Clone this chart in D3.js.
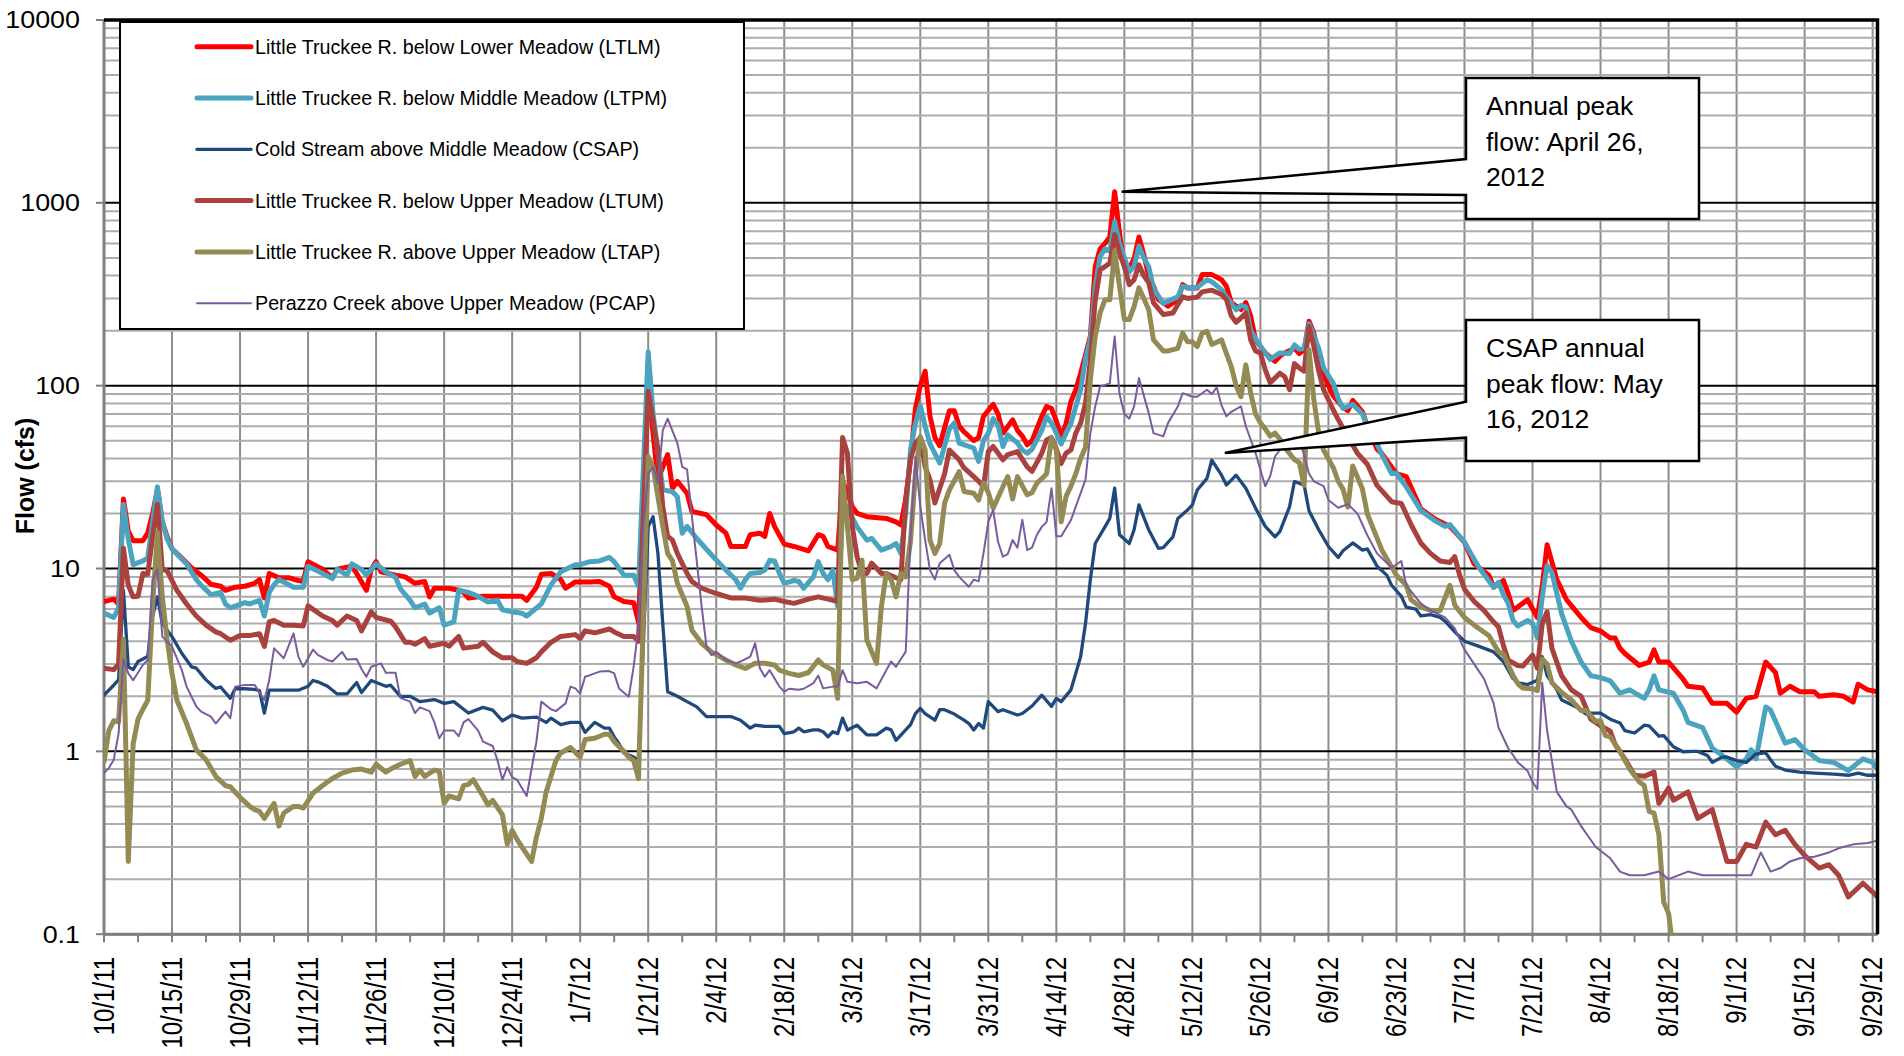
<!DOCTYPE html>
<html>
<head>
<meta charset="utf-8">
<script src="https://cdn.jsdelivr.net/npm/d3@7"></script>
<style>
  html, body { margin: 0; padding: 0; background: #fff; }
  svg { display: block; }
  text { font-family: Arial, "Liberation Sans", sans-serif; fill: #000; }
</style>
</head>
<body>
<svg id="chart" width="1904" height="1056"></svg>
<script>
// Water year 2012 daily flow, Little Truckee River meadows (cfs).
// Each series: [days since 10/1/11, flow in cfs]
const waterYearStart = "10/1/11";
const waterYearEnd = "9/30/12";

const dateTickLabels = ["10/1/11", "10/15/11", "10/29/11", "11/12/11", "11/26/11", "12/10/11", "12/24/11",
  "1/7/12", "1/21/12", "2/4/12", "2/18/12", "3/3/12", "3/17/12", "3/31/12", "4/14/12", "4/28/12",
  "5/12/12", "5/26/12", "6/9/12", "6/23/12", "7/7/12", "7/21/12", "8/4/12", "8/18/12", "9/1/12",
  "9/15/12", "9/29/12"];

const flowTicks = [0.1, 1, 10, 100, 1000, 10000];

const seriesNames = [
  "Little Truckee R. below Lower Meadow (LTLM)",
  "Little Truckee R. below Middle Meadow (LTPM)",
  "Cold Stream above Middle Meadow (CSAP)",
  "Little Truckee R. below Upper Meadow (LTUM)",
  "Little Truckee R. above Upper Meadow (LTAP)",
  "Perazzo Creek above Upper Meadow (PCAP)"
];

const ltlm = [[0,6.6],[2,6.8],[3,6.4],[4,24],[5,16],[6,14.2],[8,14.2],[9,15.6],[10,20],[11,27],[12,18],[13,14.9],[14,12.8],[16,11.4],[18,10.1],[20,9.2],[22,8.2],[24,8.0],[25,7.6],[27,7.9],[29,8.0],[31,8.3],[32,8.7],[33,6.9],[34,9.4],[36,8.9],[38,8.9],[40,8.6],[41,8.5],[42,10.9],[45,9.9],[47,8.9],[48,9.9],[51,10.3],[52,9.4],[54,7.6],[55,9.9],[56,10.9],[57,9.6],[60,9.2],[62,9.0],[64,8.3],[66,8.5],[67,7.0],[68,7.8],[71,7.8],[73,7.6],[74,7.4],[75,6.9],[78,7.05],[84,7.05],[86,7.05],[87,6.7],[89,7.9],[90,9.3],[92,9.4],[94,8.7],[95,7.8],[97,8.45],[100,8.45],[102,8.5],[104,8.0],[105,7.0],[107,6.6],[109,6.5],[110,5.1],[112,105],[113,55],[114,30.5],[116,42],[117,27.5],[118,30],[120,25.8],[121,20.5],[124,19.7],[126,17.3],[128,15.6],[129,13.2],[132,13.2],[133,15.3],[135,15.6],[136,15],[137,20],[138,17],[140,13.6],[142,13.2],[145,12.5],[147,15.3],[148,15],[149,13.2],[151,12.6],[152,30],[153,26],[154,21.8],[155,20],[157,19.2],[161,18.8],[163,18],[164,17.3],[165,24],[166,40],[167,75],[168,100],[169,120],[170,68],[171,52],[172,47],[173,59],[174,73],[175,73],[176,60],[177,56],[179,50],[180,52],[181,68],[183,79],[184,70],[185,55],[187,65],[188,57],[189,53],[190,47.5],[191,50],[193,68],[194,77],[195,75],[196,64],[197,53],[198,62],[199,82],[200,95],[201,117],[203,186],[204,448],[205,560],[206,600],[207,650],[208,1150],[209,680],[210,450],[211,437],[212,495],[213,650],[214,520],[215,400],[216,350],[217,296],[219,272],[221,296],[222,357],[223,342],[225,342],[226,405],[228,405],[230,380],[231,350],[232,285],[234,261],[235,285],[236,240],[237,178],[239,151],[241,136],[242,145],[243,151],[245,160],[246,150],[247,157],[248,225],[249,193],[251,115],[252,100],[253,88],[255,76],[256,73],[257,83],[259,72],[260,60],[262,45],[263,42.5],[266,33],[268,31.8],[271,21.2],[274,18.6],[277,17],[280,13.9],[282,10.6],[285,9.2],[286,7.9],[288,8.6],[289,7.3],[290,5.9],[293,6.75],[295,5.4],[296,8],[297,13.5],[299,8.7],[301,6.75],[304,5.4],[306,4.75],[308,4.55],[310,4.17],[311,4.17],[312,3.66],[313,3.43],[316,2.95],[318,3.08],[319,3.59],[320,3.08],[322,3.08],[325,2.48],[326,2.27],[329,2.22],[331,1.83],[334,1.83],[336,1.64],[338,1.95],[340,2.0],[342,3.08],[344,2.7],[345,2.08],[347,2.27],[349,2.12],[352,2.12],[353,2.0],[356,2.04],[358,2.0],[360,1.86],[361,2.33],[363,2.17],[365,2.12]];

const ltpm = [[0,5.7],[2,5.4],[3,6.1],[4,22.4],[5,14.5],[6,10.5],[8,11],[9,11.5],[10,18],[11,28],[12,18],[13,14.5],[14,12.8],[17,10.6],[19,8.7],[20,8.1],[22,7.2],[24,7.4],[25,6.4],[26,6.1],[29,6.5],[30,6.4],[32,6.7],[33,5.5],[34,7.4],[35,8.15],[36,8.7],[39,7.9],[41,7.9],[42,10.3],[45,9.4],[47,8.8],[48,9.9],[50,9.2],[51,10.6],[53,9.9],[54,9.2],[56,10.6],[58,9.6],[60,8.95],[61,7.75],[63,6.7],[64,6.1],[66,6.4],[67,5.7],[69,6.1],[70,4.9],[72,5.1],[73,7.6],[75,7.4],[77,7.05],[79,6.55],[81,6.7],[82,5.95],[84,5.8],[86,5.7],[87,5.5],[90,6.4],[92,8.15],[94,9.6],[97,10.5],[98,10.5],[100,10.9],[102,11],[104,11.5],[105,10.9],[107,9.2],[109,9.2],[110,8.0],[112,153],[113,70],[115,27],[117,26.3],[118,24.7],[119,15.6],[120,17],[122,14.6],[125,11.9],[128,9.8],[130,8.7],[131,7.8],[132,8.7],[133,9.4],[135,9.5],[136,9.8],[137,11.1],[138,11],[139,9.4],[140,8.3],[142,8.6],[143,8.5],[144,7.8],[146,9],[147,10.9],[148,9.4],[149,8.7],[150,9.8],[151,6.2],[152,20],[153,22],[154,19],[155,16.9],[157,14.3],[158,14.6],[160,12.6],[162,13.2],[163,13.7],[164,12.1],[165,20],[166,45],[167,62],[168,78],[169,60],[170,48],[172,37.7],[174,58],[175,62.5],[176,48.5],[178,46.5],[179,45.6],[180,38.5],[181,50],[182,55],[183,66],[184,61],[185,46.5],[186,53.8],[188,48.5],[189,44.5],[190,42.7],[191,45],[193,57],[194,67.6],[195,62.5],[196,55],[197,48],[198,55],[199,62],[200,77],[201,95],[202,140],[203,180],[204,350],[205,508],[206,560],[207,545],[208,790],[209,600],[210,500],[211,420],[212,448],[213,580],[214,500],[215,448],[216,340],[218,282],[219,290],[221,306],[222,350],[224,340],[225,345],[227,380],[228,370],[230,335],[231,306],[233,260],[234,275],[235,270],[236,200],[238,164],[240,139],[241,145],[242,151],[244,150],[245,167],[246,158],[247,160],[248,218],[250,160],[251,125],[253,103],[254,85],[255,75],[257,79],[259,70],[260,60],[262,48],[263,42],[265,33],[266,33.3],[268,28],[271,20.8],[274,18.2],[276,17],[277,17.4],[280,13.9],[283,10.1],[286,7.9],[287,8.4],[288,7.2],[289,6.45],[290,5.2],[291,4.85],[293,5.2],[294,5.0],[295,4.17],[296,7],[297,10.4],[298,9.5],[300,5.65],[302,4.0],[304,3.08],[306,2.59],[308,2.53],[310,2.43],[312,2.08],[314,2.17],[317,1.95],[318,2.17],[319,2.59],[320,2.17],[323,2.08],[325,1.68],[326,1.44],[329,1.35],[331,1.04],[334,0.91],[336,0.82],[338,0.91],[339,1.02],[340,0.91],[342,1.75],[343,1.68],[346,1.11],[348,1.16],[350,1.02],[353,0.89],[356,0.87],[359,0.785],[362,0.91],[364,0.87],[365,0.8]];

const csap = [[0,2.03],[2,2.3],[3,2.46],[4,7.6],[5,2.9],[6,2.8],[7,3.1],[9,3.3],[10,5.5],[11,7.0],[12,5.0],[14,4.24],[16,3.44],[18,2.9],[19,2.85],[21,2.46],[23,2.21],[24,2.25],[26,1.95],[27,2.2],[29,2.2],[31,2.18],[32,2.15],[33,1.62],[34,2.16],[37,2.16],[40,2.16],[42,2.27],[43,2.44],[44,2.4],[46,2.27],[48,2.06],[50,2.06],[52,2.38],[53,2.1],[55,2.44],[58,2.27],[59,2.3],[61,2.0],[63,2.0],[65,1.87],[68,1.92],[70,1.83],[72,1.87],[75,1.62],[78,1.74],[80,1.68],[82,1.47],[84,1.58],[86,1.52],[89,1.54],[91,1.44],[92,1.52],[94,1.4],[96,1.44],[98,1.44],[99,1.27],[101,1.44],[103,1.34],[104,1.34],[105,1.2],[106,1.1],[107,0.98],[109,0.93],[110,0.9],[112,17],[113,19.2],[114,12.1],[115,5],[116,2.12],[118,2.0],[120,1.87],[122,1.75],[124,1.55],[126,1.55],[129,1.55],[131,1.48],[133,1.34],[134,1.39],[136,1.37],[138,1.37],[139,1.37],[140,1.25],[142,1.28],[143,1.34],[144,1.28],[146,1.31],[147,1.31],[148,1.28],[149,1.2],[150,1.28],[151,1.25],[152,1.52],[153,1.31],[155,1.39],[157,1.23],[159,1.23],[161,1.34],[162,1.31],[163,1.15],[165,1.31],[166,1.4],[167,1.61],[168,1.72],[169,1.61],[171,1.48],[172,1.69],[173,1.69],[175,1.6],[177,1.48],[178,1.42],[179,1.31],[180,1.42],[181,1.34],[182,1.87],[184,1.65],[185,1.69],[188,1.58],[189,1.61],[191,1.77],[193,2.03],[195,1.76],[196,1.95],[197,1.87],[199,2.17],[200,2.67],[201,3.3],[202,5],[203,8.7],[204,13.7],[206,16.9],[207,18.8],[208,27.5],[209,15.3],[211,13.7],[212,16.3],[213,22.3],[215,16.3],[217,12.9],[218,13],[220,14.9],[221,18.8],[223,20.9],[224,22.3],[225,26.9],[227,31.1],[228,39.2],[230,32.4],[231,28.6],[233,32.4],[235,27.5],[237,21.4],[239,17],[241,14.9],[242,15.9],[244,21.8],[245,29.9],[247,28.6],[248,20.7],[250,16.3],[252,13.2],[254,11.5],[255,12.5],[257,13.8],[259,12.6],[260,12.8],[262,10.3],[264,9.2],[265,8.1],[267,7.05],[268,6.15],[270,6.0],[271,5.5],[273,5.6],[275,5.4],[276,5.15],[278,4.5],[280,4.0],[283,3.75],[286,3.5],[288,3.1],[290,2.5],[291,2.37],[293,2.32],[295,2.45],[296,3.3],[297,2.6],[299,2.17],[300,1.91],[303,1.75],[305,1.6],[306,1.62],[308,1.62],[310,1.5],[312,1.43],[313,1.3],[315,1.26],[317,1.39],[318,1.38],[320,1.21],[321,1.22],[323,1.06],[325,0.995],[327,1.0],[328,1.0],[330,0.95],[331,0.87],[333,0.93],[334,0.93],[336,0.89],[338,0.87],[340,0.97],[342,0.98],[343,0.9],[344,0.83],[346,0.79],[349,0.77],[352,0.76],[356,0.75],[359,0.74],[361,0.76],[363,0.74],[365,0.74]];

const ltum = [[0,2.85],[2,2.8],[3,3.0],[4,12.9],[5,8.1],[6,7.0],[7,7.05],[8,9.4],[9,9.3],[10,15],[11,22.4],[12,9.9],[13,9.7],[15,7.6],[17,6.4],[19,5.5],[21,4.9],[23,4.5],[24,4.4],[26,4.05],[28,4.3],[30,4.3],[31,4.35],[32,4.4],[33,3.75],[34,5.1],[35,5.2],[37,4.9],[39,4.9],[41,4.85],[42,6.25],[45,5.5],[47,5.2],[48,4.9],[50,5.5],[52,5.2],[53,4.56],[55,5.8],[56,5.4],[59,5.15],[60,4.8],[62,3.95],[63,3.95],[64,3.85],[66,4.14],[67,3.76],[70,3.9],[71,3.76],[73,4.25],[74,3.67],[77,3.76],[78,3.95],[80,3.5],[82,3.25],[84,3.25],[85,3.1],[87,3.03],[89,3.25],[90,3.5],[92,3.95],[94,4.25],[97,4.35],[98,4.14],[99,4.56],[101,4.45],[104,4.67],[105,4.5],[107,4.25],[109,4.25],[110,4.0],[112,93],[114,44.5],[115,21.8],[116,15],[117,14.3],[118,12.1],[120,9.4],[121,8.5],[123,7.8],[126,7.3],[129,6.9],[132,6.9],[135,6.7],[138,6.8],[140,6.6],[142,6.45],[145,6.8],[147,7.0],[149,6.8],[151,6.6],[152,52],[153,42.7],[154,17],[155,11.6],[156,9.4],[157,9.4],[158,10.7],[160,9.4],[161,9.4],[163,8.9],[164,8.7],[165,23.7],[166,40],[167,48.5],[168,52],[169,36],[170,30.5],[171,22.8],[173,33],[174,44.5],[176,39.3],[177,35.5],[179,31.8],[180,30],[181,28.1],[182,43.6],[183,46.5],[185,39.3],[186,42],[188,43.6],[190,36],[191,34],[193,42.7],[194,50.5],[195,52],[196,45],[197,37.5],[198,42.8],[199,44.5],[200,55],[201,62.5],[202,80],[203,138],[204,294],[205,430],[206,448],[207,467],[208,670],[209,530],[210,448],[211,357],[212,380],[213,458],[214,400],[215,366],[216,284],[218,245],[220,250],[221,278],[222,306],[223,300],[225,305],[226,326],[228,333],[230,315],[231,296],[232,241],[233,222],[234,235],[235,250],[236,178],[237,155],[238,151],[239,122],[240,104],[241,110],[242,117],[243,112],[244,95],[245,132],[246,125],[247,120],[248,211],[249,164],[250,120],[251,95],[253,73.6],[254,65.4],[255,58.5],[258,42.6],[260,37.2],[262,28.5],[265,23.2],[267,22.7],[269,17.4],[271,13.8],[273,12.1],[275,11.0],[277,10.8],[278,11.6],[279,9.2],[280,7.7],[282,6.6],[284,5.9],[286,5.1],[287,4.8],[288,3.8],[289,3.15],[291,2.95],[292,2.93],[294,3.36],[295,2.85],[296,5.0],[297,5.8],[298,3.66],[300,2.59],[302,2.17],[304,2.0],[306,1.5],[308,1.38],[310,1.29],[311,1.09],[313,0.91],[315,0.74],[317,0.73],[319,0.77],[320,0.52],[322,0.63],[323,0.54],[326,0.6],[328,0.43],[331,0.48],[334,0.25],[336,0.25],[338,0.31],[340,0.30],[342,0.41],[344,0.35],[346,0.37],[348,0.31],[350,0.27],[353,0.23],[355,0.24],[357,0.21],[359,0.16],[362,0.19],[364,0.17],[365,0.16]];

const ltap = [[0,0.88],[1,1.3],[2,1.47],[3,1.45],[4,4.1],[5,0.25],[6,1.1],[7,1.5],[8,1.7],[9,1.9],[10,6.2],[11,15.8],[12,7],[13,4.06],[14,2.67],[15,1.91],[17,1.42],[19,1.02],[21,0.9],[23,0.73],[25,0.65],[26,0.64],[28,0.56],[30,0.5],[31,0.48],[32,0.47],[33,0.43],[35,0.52],[36,0.39],[37,0.46],[39,0.5],[40,0.5],[41,0.49],[43,0.59],[45,0.65],[47,0.71],[49,0.76],[51,0.79],[53,0.8],[55,0.77],[56,0.85],[58,0.77],[59,0.8],[61,0.85],[63,0.89],[64,0.73],[65,0.79],[66,0.73],[68,0.79],[69,0.78],[70,0.52],[71,0.57],[73,0.55],[74,0.65],[75,0.66],[76,0.7],[78,0.57],[79,0.51],[80,0.54],[82,0.45],[83,0.31],[84,0.37],[85,0.33],[86,0.30],[88,0.25],[89,0.34],[90,0.43],[91,0.6],[93,0.89],[94,0.98],[96,1.05],[98,0.93],[99,1.16],[101,1.18],[103,1.24],[104,1.24],[105,1.13],[107,1.0],[108,0.93],[109,0.89],[110,0.71],[112,41],[113,36],[115,17],[116,12.1],[117,11],[118,8.3],[120,6.2],[121,4.6],[123,3.9],[125,3.5],[128,3.16],[130,2.97],[132,2.84],[134,3.03],[136,3.03],[138,2.97],[139,2.78],[141,2.67],[143,2.6],[145,2.7],[147,3.16],[148,2.97],[150,2.78],[151,1.95],[152,32],[153,17],[154,8.7],[155,8.85],[156,11.1],[157,4.06],[159,3.03],[160,6.2],[161,9.4],[162,8.7],[163,7.0],[164,9.4],[165,9.0],[166,14.3],[167,33],[168,52.5],[169,44.5],[170,14.3],[171,12.1],[172,13.7],[173,22.8],[174,26.9],[176,33.9],[177,26.4],[179,25.8],[180,23.7],[181,29.3],[182,26],[183,21.4],[185,28],[186,31.8],[187,24],[188,31.8],[190,25.3],[191,26],[192,29.3],[193,31],[194,33],[195,51.5],[196,44.5],[197,18],[198,24.8],[199,28.2],[200,33],[201,40],[202,46],[203,108],[204,186],[205,250],[206,295],[207,295],[208,545],[209,350],[210,230],[211,230],[212,271],[213,343],[214,300],[215,261],[216,178],[218,155],[219,155],[221,160],[222,194],[223,174],[224,174],[225,164],[226,194],[227,198],[228,168],[230,178],[231,150],[232,127],[233,100],[234,87],[235,130],[236,91],[237,70],[238,62.6],[239,58],[240,53],[241,55],[242,51],[243,46],[244,42.6],[245,39.4],[246,38],[247,28.5],[248,157],[249,83.6],[250,55],[251,44.5],[253,35.6],[254,30],[255,27.2],[256,21.7],[257,36.4],[259,27.2],[260,19.9],[263,12.6],[266,9.2],[268,8.1],[269,6.75],[271,6.15],[273,5.9],[275,5.9],[277,8.1],[278,6.3],[280,5.4],[282,4.9],[285,4.3],[287,3.5],[288,3.4],[290,2.6],[291,2.34],[292,2.22],[294,2.2],[295,2.15],[296,3.2],[297,3.0],[298,2.37],[300,2.1],[302,1.91],[304,1.67],[305,1.68],[307,1.46],[308,1.47],[309,1.22],[310,1.2],[312,1.0],[314,0.8],[316,0.68],[317,0.65],[318,0.47],[319,0.46],[320,0.35],[321,0.15],[322,0.13],[323,0.08]];

const pcap = [[0,0.76],[1,0.81],[2,0.9],[3,1.25],[4,3.2],[5,2.67],[6,2.45],[8,2.97],[9,3.16],[10,8.7],[11,9.8],[12,4.24],[14,3.74],[16,2.79],[17,2.26],[19,1.76],[20,1.65],[22,1.55],[23,1.42],[25,1.65],[26,1.52],[27,2.26],[29,2.31],[31,2.31],[33,1.91],[34,2.45],[35,3.66],[37,3.23],[39,4.42],[40,3.3],[41,2.9],[43,3.6],[44,3.37],[46,3.16],[47,3.1],[49,3.5],[50,3.18],[52,3.2],[53,2.82],[54,2.56],[55,2.9],[57,3.03],[58,2.69],[60,2.69],[61,1.96],[63,1.87],[64,1.62],[65,1.74],[67,1.66],[68,1.44],[69,1.18],[70,1.3],[72,1.3],[73,1.21],[74,1.44],[75,1.5],[77,1.3],[78,1.13],[80,1.07],[81,0.89],[82,0.7],[83,0.82],[84,0.72],[85,0.7],[87,0.57],[89,1.13],[90,1.87],[92,1.7],[93,1.66],[95,1.83],[96,2.26],[97,2.21],[98,2.07],[99,2.56],[100,2.61],[102,2.73],[104,2.75],[105,2.67],[106,2.21],[108,1.99],[109,2.9],[110,4.8],[111,17],[112,33],[113,36],[114,29.2],[115,57],[116,66],[118,48.5],[119,36],[120,34.8],[121,19.2],[123,6.2],[124,3.74],[125,3.36],[126,3.5],[128,3.16],[130,3.03],[131,3.1],[133,3.3],[134,3.9],[135,2.84],[136,2.56],[137,2.78],[139,2.26],[140,2.12],[141,2.2],[143,2.17],[144,2.2],[146,2.36],[147,2.6],[148,2.21],[150,2.26],[151,2.26],[152,2.78],[153,2.4],[155,2.36],[157,2.4],[159,2.21],[161,2.78],[162,3.1],[163,2.9],[165,3.51],[166,15],[167,41],[168,21.8],[169,14.3],[170,9.8],[171,8.7],[172,10.7],[174,11.9],[175,9.8],[176,9.0],[178,7.95],[179,8.7],[180,8.5],[181,12.1],[182,18],[183,20.9],[184,14],[185,11.6],[186,12],[187,14.3],[188,13],[189,18.5],[190,12.6],[191,13],[192,15.3],[193,16.9],[194,18],[195,27.5],[196,15],[197,15],[199,18.4],[200,21.8],[202,30.6],[203,55],[204,77],[205,99],[207,103],[208,186],[209,90],[210,70],[211,66],[212,77],[213,110],[215,71],[216,55],[218,52.8],[219,62.6],[221,77],[222,91],[224,87],[225,87],[227,95],[228,90],[229,98],[230,78],[231,68],[232,72],[234,77],[235,60],[237,42.8],[238,34.6],[239,28.2],[240,32],[241,41],[243,48.4],[245,52],[246,50],[247,42],[248,33],[249,30],[251,28.2],[252,23.7],[254,21.5],[256,22.5],[258,19.9],[260,15.2],[262,12.1],[265,10.1],[267,11],[268,8.1],[271,6.45],[273,5.9],[276,5.4],[278,4.7],[280,3.6],[284,2.5],[286,1.83],[287,1.35],[289,1.04],[291,0.87],[293,0.78],[294,0.68],[295,0.62],[296,2.37],[297,1.3],[299,0.6],[301,0.5],[302,0.48],[304,0.39],[307,0.3],[310,0.26],[312,0.22],[314,0.21],[317,0.21],[320,0.22],[322,0.2],[326,0.22],[329,0.21],[333,0.21],[337,0.21],[339,0.21],[341,0.28],[343,0.22],[345,0.23],[347,0.25],[349,0.26],[352,0.265],[355,0.28],[357,0.295],[360,0.31],[363,0.315],[365,0.325]];

const seriesData = [ltlm, ltpm, csap, ltum, ltap, pcap];
const seriesColors = ["#FF0000", "#4AA3BF", "#1F497D", "#A9423E", "#948A54", "#7A5C9E"];
const seriesWidths = [5, 5, 3.3, 5, 5, 2];

const calloutTexts = [
  ["Annual peak", "flow: April 26,", "2012"],
  ["CSAP annual", "peak flow: May", "16, 2012"]
];

// ---- layout ----
const W = 1904, H = 1056;
const plot = { left: 104, right: 1877.5, top: 20, bottom: 934.2 };

const parseDate = d3.utcParse("%m/%d/%y");
const start = parseDate(waterYearStart);
const end = parseDate(waterYearEnd);
const toDate = d => d3.utcDay.offset(start, d);

const x = d3.scaleUtc().domain([start, end]).range([plot.left, plot.right]);
const y = d3.scaleLog().domain([flowTicks[0], flowTicks[flowTicks.length - 1]]).range([plot.bottom, plot.top]);

const svg = d3.select("#chart");
svg.append("rect").attr("width", W).attr("height", H).attr("fill", "#fff");

svg.append("defs").append("clipPath").attr("id", "plotClip")
  .append("rect")
  .attr("x", plot.left).attr("y", plot.top)
  .attr("width", plot.right - plot.left).attr("height", plot.bottom - plot.top);

// ---- gridlines ----
const grid = svg.append("g");
const tickDates = dateTickLabels.map(parseDate);

grid.selectAll("line.vgrid").data(tickDates).join("line")
  .attr("x1", d => x(d)).attr("x2", d => x(d))
  .attr("y1", plot.top).attr("y2", plot.bottom)
  .attr("stroke", "#8C8C8C").attr("stroke-width", 2);

const minorFlows = [];
flowTicks.slice(0, -1).forEach(t => {
  for (let m = 2; m <= 9; m++) minorFlows.push(t * m);
});
grid.selectAll("line.minor").data(minorFlows).join("line")
  .attr("x1", plot.left).attr("x2", plot.right)
  .attr("y1", d => y(d)).attr("y2", d => y(d))
  .attr("stroke", "#ADADAD").attr("stroke-width", 2);

grid.selectAll("line.major").data(flowTicks).join("line")
  .attr("x1", plot.left).attr("x2", plot.right)
  .attr("y1", d => y(d)).attr("y2", d => y(d))
  .attr("stroke", "#000").attr("stroke-width", 2);

// ---- axes ----
const axes = svg.append("g");
// left axis line + decade ticks
axes.append("line")
  .attr("x1", plot.left).attr("x2", plot.left)
  .attr("y1", plot.top).attr("y2", plot.bottom)
  .attr("stroke", "#7F7F7F").attr("stroke-width", 3);
axes.selectAll("line.ytick").data(flowTicks).join("line")
  .attr("x1", plot.left - 8).attr("x2", plot.left)
  .attr("y1", d => y(d)).attr("y2", d => y(d))
  .attr("stroke", "#7F7F7F").attr("stroke-width", 2);
axes.selectAll("text.ylab").data(flowTicks).join("text")
  .attr("transform", d => `translate(80,${y(d)}) scale(1.12,1)`)
  .attr("text-anchor", "end").attr("dominant-baseline", "central")
  .attr("font-size", 24)
  .text(d => String(d));

// bottom axis line + weekly ticks
axes.append("line")
  .attr("x1", plot.left).attr("x2", plot.right)
  .attr("y1", plot.bottom).attr("y2", plot.bottom)
  .attr("stroke", "#7F7F7F").attr("stroke-width", 3);
const weekTicks = d3.range(0, d3.utcDay.count(start, end) + 1, 7).map(toDate);
axes.selectAll("line.xtick").data(weekTicks).join("line")
  .attr("x1", d => x(d)).attr("x2", d => x(d))
  .attr("y1", plot.bottom).attr("y2", plot.bottom + 8)
  .attr("stroke", "#7F7F7F").attr("stroke-width", 2);
axes.selectAll("text.xlab").data(tickDates).join("text")
  .attr("transform", d => `translate(${x(d)},957) scale(1.2,1) rotate(-90)`)
  .attr("text-anchor", "end").attr("dominant-baseline", "central")
  .attr("font-size", 24)
  .text((d, i) => dateTickLabels[i]);

// axis title
svg.append("text")
  .attr("transform", "translate(25,476) rotate(-90)")
  .attr("text-anchor", "middle").attr("dominant-baseline", "central")
  .attr("font-size", 25).attr("font-weight", "bold")
  .text("Flow (cfs)");

// ---- flow lines ----
const line = d3.line()
  .x(d => x(toDate(d[0])))
  .y(d => y(d[1]));

const lines = svg.append("g").attr("clip-path", "url(#plotClip)");
seriesData.forEach((data, i) => {
  lines.append("path")
    .datum(data)
    .attr("d", line)
    .attr("fill", "none")
    .attr("stroke", seriesColors[i])
    .attr("stroke-width", seriesWidths[i])
    .attr("stroke-linejoin", "round")
    .attr("stroke-linecap", "round");
});

// plot frame (top and right)
svg.append("path")
  .attr("d", `M${plot.left},${plot.top}H${plot.right}V${plot.bottom}`)
  .attr("fill", "none").attr("stroke", "#000").attr("stroke-width", 3.5);

// ---- legend ----
const legend = svg.append("g");
legend.append("rect")
  .attr("x", 120).attr("y", 22).attr("width", 624).attr("height", 307)
  .attr("fill", "#fff").attr("stroke", "#000").attr("stroke-width", 2);
const legendRow = i => 46.7 + i * 51.3;
seriesNames.forEach((name, i) => {
  legend.append("line")
    .attr("x1", 197).attr("x2", 251)
    .attr("y1", legendRow(i)).attr("y2", legendRow(i))
    .attr("stroke", seriesColors[i]).attr("stroke-width", seriesWidths[i])
    .attr("stroke-linecap", "round");
  legend.append("text")
    .attr("x", 255).attr("y", legendRow(i))
    .attr("dominant-baseline", "central")
    .attr("font-size", 19.7)
    .text(name);
});

// ---- callouts pointing at the annual peaks ----
const peakOf = data => data.reduce((a, b) => (b[1] > a[1] ? b : a));
const lmPeak = peakOf(ltlm);
const csPeak = peakOf(csap);
const callouts = [
  { box: [1466, 78, 233, 141], notch: [159, 195], tip: [x(toDate(lmPeak[0])) + 7, y(lmPeak[1])], lines: calloutTexts[0], base: 115 },
  { box: [1466, 320, 233, 141], notch: [401.7, 437.7], tip: [x(toDate(csPeak[0])) + 13, y(csPeak[1]) - 7], lines: calloutTexts[1], base: 357 }
];
const cg = svg.append("g");
callouts.forEach(c => {
  const [bx, by, bw, bh] = c.box;
  const p = d3.path();
  p.moveTo(bx, by);
  p.lineTo(bx + bw, by);
  p.lineTo(bx + bw, by + bh);
  p.lineTo(bx, by + bh);
  p.lineTo(bx, c.notch[1]);
  p.lineTo(c.tip[0], c.tip[1]);
  p.lineTo(bx, c.notch[0]);
  p.closePath();
  cg.append("path").attr("d", p.toString())
    .attr("fill", "#fff").attr("stroke", "#000").attr("stroke-width", 2.5)
    .attr("stroke-linejoin", "miter");
  c.lines.forEach((t, j) => {
    cg.append("text")
      .attr("x", bx + 20).attr("y", c.base + j * 35.5)
      .attr("font-family", "Lato, 'Open Sans', sans-serif")
      .attr("font-size", 26.5)
      .text(t);
  });
});
</script>
</body>
</html>
